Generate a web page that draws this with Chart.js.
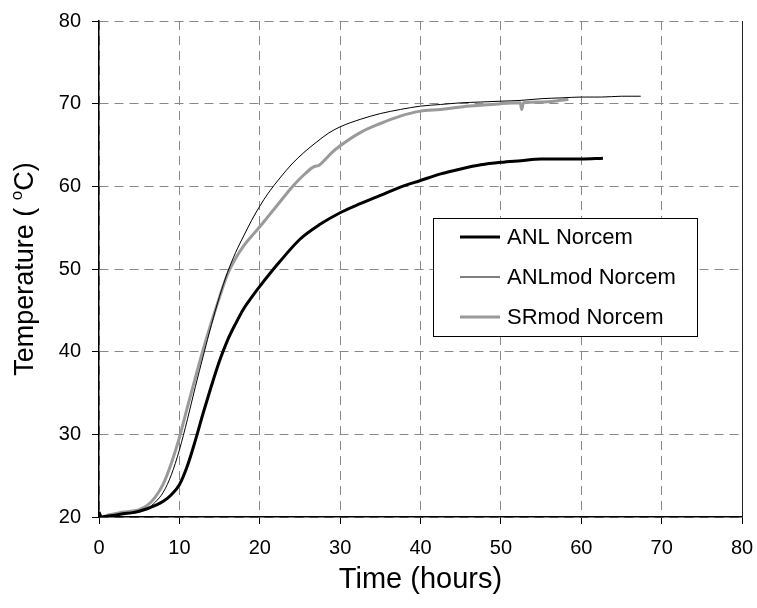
<!DOCTYPE html>
<html>
<head>
<meta charset="utf-8">
<script src="https://cdn.jsdelivr.net/npm/chart.js@4.4.0/dist/chart.umd.min.js"></script>
<style>
  html, body { margin: 0; padding: 0; background: #fff; }
</style>
</head>
<body>
<canvas id="tempChart" width="757" height="608"></canvas>
<script>
// time in hours, temperature in deg C
var anlTime = [0, 0.3, 1, 2, 3, 4, 5, 6, 7, 8, 9, 10, 11, 12, 13, 14, 15, 16, 17, 18, 19, 20,
    22.5, 25, 27.5, 30, 32.5, 35, 37.5, 40, 42.5, 45, 47.5, 50, 52.5, 55, 57.5, 60, 62.7];
var anlTemp = [20.6, 20.0, 20.1, 20.2, 20.4, 20.5, 20.7, 21.0, 21.4, 21.9, 22.7, 23.9, 26.2, 29.3, 32.7, 35.9, 38.9, 41.4, 43.4, 45.2, 46.6, 47.9,
    50.9, 53.6, 55.4, 56.8, 57.9, 58.9, 59.9, 60.7, 61.5, 62.1, 62.6, 62.9, 63.1, 63.3, 63.3, 63.3, 63.4];

var anlModTime = [0.3, 1, 2, 3, 4, 5, 6, 7, 8, 9, 10, 11, 12, 13, 14, 15, 16, 17, 18, 19, 20, 21,
    22.5, 24, 25.5, 27, 28.5, 30, 32.5, 35, 37.5, 40, 42.5, 45, 47.5, 50, 52.5, 55, 57.5, 60, 62.5, 65, 67.4];
var anlModTemp = [20.0, 20.1, 20.2, 20.4, 20.5, 20.6, 21.0, 21.8, 23.0, 25.1, 28.1, 31.8, 35.8, 39.6, 43.3, 46.7, 49.6, 52.0, 54.0, 55.9, 57.6, 59.1,
    61.0, 62.7, 64.1, 65.3, 66.4, 67.2, 68.1, 68.8, 69.3, 69.7, 69.9, 70.1, 70.2, 70.3, 70.4, 70.6, 70.7, 70.8, 70.8, 70.9, 70.9];

var srModTime = [0.5, 1, 2, 3, 4, 5, 6, 7, 8, 9, 10, 11, 12, 13, 14, 15, 16, 17, 18, 19, 20, 21,
    22.5, 24, 25.5, 26.8, 27.3, 28, 29, 30, 32.5, 35, 37.5, 40, 42.5, 45, 47.5, 50, 52.4, 52.6, 52.8, 55, 57.5, 58.4];
var srModTemp = [20.0, 20.2, 20.4, 20.6, 20.7, 20.9, 21.4, 22.4, 24.0, 26.5, 29.6, 33.3, 36.9, 40.4, 43.6, 46.6, 49.4, 51.3, 52.8, 54.0, 55.1, 56.3,
    58.1, 59.9, 61.4, 62.4, 62.5, 63.1, 64.1, 64.9, 66.5, 67.6, 68.5, 69.1, 69.3, 69.6, 69.8, 70.0, 70.1, 69.3, 70.1, 70.2, 70.4, 70.5];

var seriesNames = ['ANL Norcem', 'ANLmod Norcem', 'SRmod Norcem'];

function toPoints(xs, ys) {
    return xs.map(function (x, i) { return { x: x, y: ys[i] }; });
}

var fontFamily = '"Liberation Sans", Arial, sans-serif';

// right edge of the plot, boxed legend and the y axis title with superscript
var plotExtras = {
    id: 'plotExtras',
    afterDraw: function (chart) {
        var ctx = chart.ctx;
        var area = chart.chartArea;
        ctx.save();

        ctx.strokeStyle = '#222';
        ctx.lineWidth = 1;
        ctx.beginPath();
        ctx.moveTo(Math.round(area.right) + 0.5, area.top);
        ctx.lineTo(Math.round(area.right) + 0.5, area.bottom);
        ctx.stroke();

        // legend box
        var bx = 433.5, by = 218.5, bw = 264, bh = 118;
        ctx.fillStyle = '#fff';
        ctx.fillRect(bx, by, bw, bh);
        ctx.strokeStyle = '#000';
        ctx.strokeRect(bx, by, bw, bh);
        ctx.font = '22px ' + fontFamily;
        ctx.textBaseline = 'middle';
        ctx.textAlign = 'left';
        chart.data.datasets.forEach(function (ds, i) {
            var y = 237 + i * 40;
            ctx.strokeStyle = ds.borderColor;
            ctx.lineWidth = ds.borderWidth;
            ctx.beginPath();
            ctx.moveTo(460, y);
            ctx.lineTo(500, y);
            ctx.stroke();
            ctx.fillStyle = '#000';
            ctx.fillText(ds.label, 507, y + 1);
        });

        // y axis title
        ctx.translate(33, (area.top + area.bottom) / 2);
        ctx.rotate(-Math.PI / 2);
        ctx.fillStyle = '#000';
        ctx.textBaseline = 'alphabetic';
        var big = '27px ' + fontFamily;
        var small = '17px ' + fontFamily;
        var parts = [['Temperature ( ', big, 0], ['o', small, -11], ['C)', big, 0]];
        var total = 0;
        parts.forEach(function (p) { ctx.font = p[1]; total += ctx.measureText(p[0]).width; });
        var x = -total / 2;
        parts.forEach(function (p) {
            ctx.font = p[1];
            ctx.fillText(p[0], x, p[2]);
            x += ctx.measureText(p[0]).width;
        });
        ctx.restore();
    }
};

var ctx = document.getElementById('tempChart').getContext('2d');

var tempChart = new Chart(ctx, {
    type: 'line',
    data: {
        datasets: [{
            label: seriesNames[0],
            data: toPoints(anlTime, anlTemp),
            borderColor: '#000',
            borderWidth: 3
        }, {
            label: seriesNames[1],
            data: toPoints(anlModTime, anlModTemp),
            borderColor: '#000',
            borderWidth: 1
        }, {
            label: seriesNames[2],
            data: toPoints(srModTime, srModTemp),
            borderColor: '#9a9a9a',
            borderWidth: 3
        }]
    },
    options: {
        responsive: false,
        animation: false,
        devicePixelRatio: 1,
        layout: { padding: { top: 21, right: 15, left: 0, bottom: 0 } },
        elements: {
            point: { radius: 0 },
            line: { tension: 0.3, cubicInterpolationMode: 'monotone' }
        },
        plugins: {
            legend: { display: false },
            tooltip: { enabled: false }
        },
        scales: {
            x: {
                type: 'linear',
                min: 0,
                max: 80,
                ticks: {
                    stepSize: 10,
                    color: '#000',
                    padding: 12,
                    maxRotation: 0,
                    font: { family: fontFamily, size: 20 }
                },
                grid: { color: '#888', tickColor: '#000', tickLength: 7 },
                border: { color: '#000', width: 1.5, dash: [9, 6] },
                title: {
                    display: true,
                    text: 'Time (hours)',
                    color: '#000',
                    font: { family: fontFamily, size: 29 },
                    padding: { top: 0, bottom: 11 }
                },
                afterFit: function (scale) {
                    scale.height = 91;
                    scale.paddingLeft = 0;
                    scale.paddingRight = 0;
                }
            },
            y: {
                min: 20,
                max: 80,
                ticks: {
                    stepSize: 10,
                    color: '#000',
                    padding: 11,
                    font: { family: fontFamily, size: 20 }
                },
                grid: { color: '#888', tickColor: '#000', tickLength: 7 },
                border: { color: '#000', width: 1.5, dash: [9, 6] },
                afterFit: function (scale) {
                    scale.width = 99;
                    scale.paddingTop = 0;
                    scale.paddingBottom = 0;
                }
            }
        }
    },
    plugins: [plotExtras]
});
</script>
</body>
</html>
